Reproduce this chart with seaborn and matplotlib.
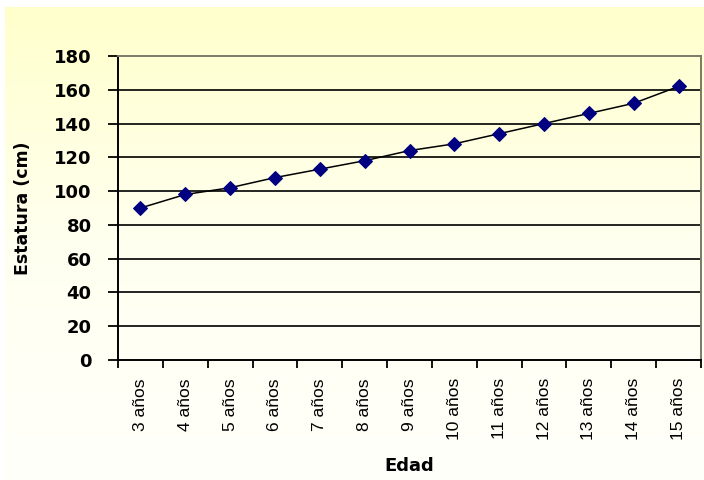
import numpy as np
import pandas as pd
import matplotlib
matplotlib.use("Agg")
import matplotlib.pyplot as plt
import seaborn as sns
from matplotlib.colors import LinearSegmentedColormap
from matplotlib.ticker import FixedLocator

# Height by age
edades = ["3 años", "4 años", "5 años", "6 años", "7 años", "8 años", "9 años",
          "10 años", "11 años", "12 años", "13 años", "14 años", "15 años"]
estatura = [90, 98, 102, 108, 113, 118, 124, 128, 134, 140, 146, 152, 162]
y_ticks = [0, 20, 40, 60, 80, 100, 120, 140, 160, 180]

df = pd.DataFrame({"Edad": edades, "Estatura": estatura})

sns.set_theme(style="white")
plt.rcParams["font.family"] = ["DejaVu Sans"]
plt.rcParams["text.color"] = "black"
plt.rcParams["axes.labelcolor"] = "black"
plt.rcParams["xtick.color"] = "black"
plt.rcParams["ytick.color"] = "black"

fig = plt.figure(figsize=(7.04, 4.8), dpi=100)
fig.patch.set_facecolor("white")

# pale yellow vertical gradient behind the chart
bg = fig.add_axes([5 / 704, 0, 1 - 5 / 704, 1 - 7 / 480], zorder=0)
cmap = LinearSegmentedColormap.from_list("fondo", ["#ffffcc", "#fffff0", "#fffffb"])
grad = np.linspace(0, 1, 256).reshape(-1, 1)
bg.imshow(grad, aspect="auto", cmap=cmap, extent=[0, 1, 0, 1], origin="upper")
bg.set_axis_off()

ax = fig.add_axes([118 / 704, 1 - 360 / 480, (701 - 118) / 704, (360 - 56) / 480], zorder=1)
ax.patch.set_alpha(0)

# horizontal gridlines
for v in y_ticks[1:-1]:
    ax.axhline(v, color="black", lw=1.2, zorder=1)

sns.lineplot(data=df, x="Edad", y="Estatura", ax=ax, color="black", lw=1.1,
             marker="D", markersize=7.5, markerfacecolor="#000080",
             markeredgecolor="#000080", sort=False, zorder=3)

ax.set_xlim(-0.5, len(edades) - 0.5)
ax.set_ylim(0, 180)
ax.set_yticks(y_ticks)
ax.set_yticklabels([str(t) for t in y_ticks], fontsize=13, fontweight="bold", color="black")

ax.set_xticks(range(len(edades)))
ax.set_xticklabels(edades, rotation=90, fontsize=12.5, family="Liberation Sans",
                   va="top", ha="center", color="black")
ax.xaxis.set_minor_locator(FixedLocator(np.arange(-0.5, len(edades), 1.0)))
ax.tick_params(axis="x", which="major", length=0, pad=13)
ax.tick_params(axis="x", which="minor", length=6, width=1.3, color="black", direction="out", bottom=True)
ax.tick_params(axis="y", length=7, width=1.3, color="black", direction="out", left=True, pad=12)

for side in ["left", "bottom"]:
    ax.spines[side].set_color("black")
    ax.spines[side].set_linewidth(1.4)
for side in ["top", "right"]:
    ax.spines[side].set_color("#7a7a6a")
    ax.spines[side].set_linewidth(1.4)

ax.set_xlabel("Edad", fontsize=13, fontweight="bold", labelpad=12, color="black")
ax.set_ylabel("Estatura (cm)", fontsize=12.5, fontweight="bold", labelpad=16, color="black")
ax.grid(False)

fig.savefig("out.png", dpi=100)
